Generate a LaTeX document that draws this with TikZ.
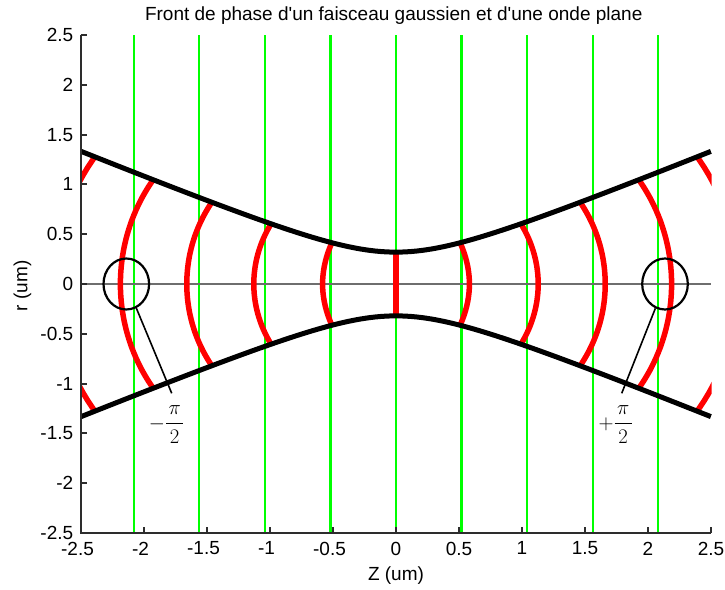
\documentclass[tikz,border=0pt]{standalone}
\usepackage{amsmath}
\usepackage{fontspec}
\setmainfont{Liberation Sans}[Ligatures=TeXOff]
\usetikzlibrary{shapes.geometric}
\definecolor{pgreen}{RGB}{0,255,0}
\definecolor{pred}{RGB}{255,0,0}
\definecolor{axgray}{RGB}{45,45,45}
\definecolor{zgray}{RGB}{110,110,110}
\begin{document}
\begin{tikzpicture}[x=126pt,y=99.6pt,
  declare function={
    wz(\z)=0.32*sqrt(1+(\z/0.6187)*(\z/0.6187));
    zA(\a,\q)=(\a)-(\q)*(\q)*(\a)/(2*((\a)*(\a)+0.38279));
    zB(\a,\q)=(\a)-(\q)*(\q)*zA(\a,\q)/(2*(zA(\a,\q)*zA(\a,\q)+0.38279))+(atan(zA(\a,\q)/0.6187)-atan((\a)/0.6187))/692.3;
    zC(\a,\q)=(\a)-(\q)*(\q)*zB(\a,\q)/(2*(zB(\a,\q)*zB(\a,\q)+0.38279))+(atan(zB(\a,\q)/0.6187)-atan((\a)/0.6187))/692.3;
  },
  txt/.style={font=\fontsize{19}{22}\selectfont, inner sep=0pt, text=black},
  mathlab/.style={font=\fontsize{22}{26}\selectfont, inner sep=0pt, anchor=base},
  greenline/.style={pgreen, line width=2.2pt},
  zline/.style={zgray, line width=1.7pt},
  front/.style={pred, line width=5.5pt, line cap=round},
  env/.style={black, line width=5pt},
  axis/.style={axgray, line width=2pt},
  ring/.style={draw, ellipse, minimum width=45.6pt, minimum height=51pt, inner sep=0pt, line width=2.2pt},
  lead/.style={black, line width=1.6pt}
]
\useasboundingbox (-3.14286,-3.06225) rectangle (2.61111,2.85141);

% plane-wave fronts
\foreach \n in {-4,...,4} {
  \draw[greenline] ({\n*0.5205},-2.5) -- ({\n*0.5205},2.5);
}
% optical axis
\draw[zline] (-2.5,0) -- (2.5,0);

% gaussian beam phase fronts
\begin{scope}
  \clip plot[domain=-2.505:2.505,samples=101] (\x,{wz(\x)}) -- plot[domain=2.505:-2.505,samples=101] (\x,{-wz(\x)}) -- cycle;
  \foreach \zz/\rr in {0/0.36, 0.5825/0.46, 1.1285/0.67, 1.6605/0.89, 2.1872/1.15, 2.7114/1.38} {
    \draw[front] plot[domain=-\rr:\rr, samples=41, variable=\t] ({zC(\zz,\t)},{\t});
    \draw[front] plot[domain=-\rr:\rr, samples=41, variable=\t] ({zC(-\zz,\t)},{\t});
  }
\end{scope}

% beam envelope
\draw[env] plot[domain=-2.5:2.5,samples=121] (\x,{wz(\x)});
\draw[env] plot[domain=-2.5:2.5,samples=121] (\x,{-wz(\x)});

% axes
\draw[axis] (-2.5,2.5) -- (-2.5,-2.5) -- (2.5,-2.5);
\foreach \v in {-2.5,-2,...,2.5} {
  \draw[axis] (-2.5,\v) -- ++(6.5pt,0);
  \draw[axis] (\v,-2.5) -- ++(0,6.5pt);
}
\foreach \v [count=\i] in {-2.5,-2,-1.5,-1,-0.5,0,0.5,1,1.5,2,2.5} {
  \node[txt, anchor=east] (yl\i) at (-2.560,\v) {\v};
}
\foreach \v [count=\i] in {-2.5,-2,-1.5,-1,-0.5} {
  \node[txt, anchor=north, xshift=-3.5pt] (xn\i) at (\v,-2.587) {\v};
}
\foreach \v [count=\i] in {0,0.5,1,1.5,2,2.5} {
  \node[txt, anchor=north] (xp\i) at (\v,-2.587) {\v};
}

% titles
\node[txt, anchor=base] (title) at (-0.018,2.6436) {Front de phase d'un faisceau gaussien et d'une onde plane};
\node[txt, anchor=base] (zlab) at (0,-2.977) {Z (um)};
\node[txt, rotate=90] (rlab) at (-2.964,-0.018) {r (um)};

% annotations
\node[ring] (cl) at (-2.1405,0) {};
\node[ring] (cr) at (2.135,0) {};
\coordinate (ll) at (-1.780,-1.0974);
\coordinate (lr) at (1.7913,-1.0974);
\draw[lead] (cl) -- (ll);
\draw[lead] (cr) -- (lr);
\node[mathlab] (labm) at (-1.820,-1.456) {$-\dfrac{\mkern2mu\pi\mkern2mu}{2}$};
\node[mathlab] (labp) at (1.7437,-1.456) {$+\dfrac{\mkern2mu\pi\mkern2mu}{2}$};
\end{tikzpicture}
\end{document}
